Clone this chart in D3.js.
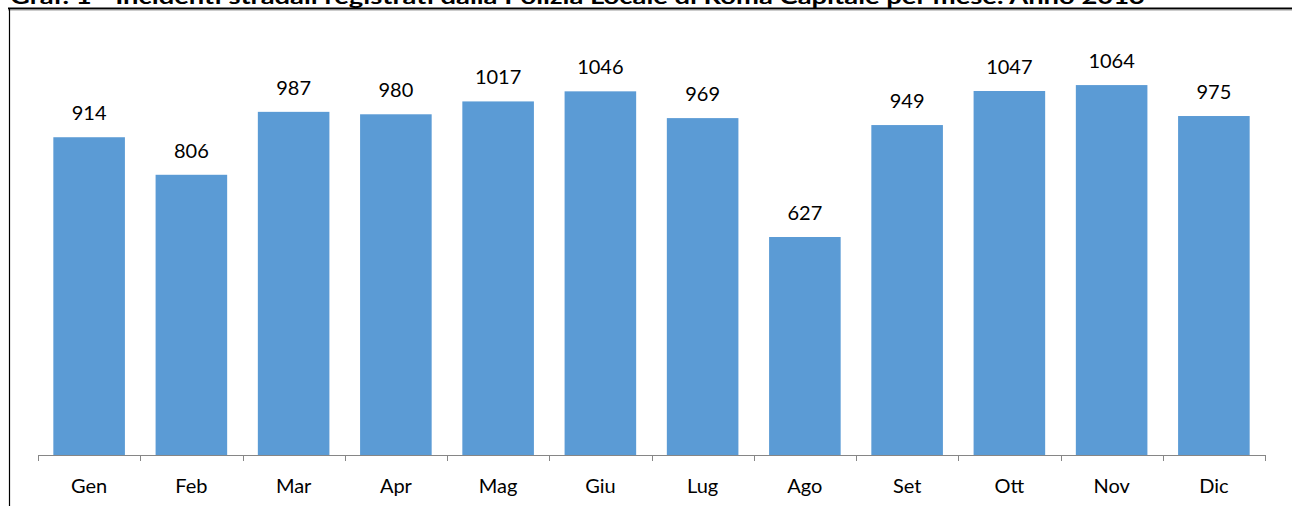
<!DOCTYPE html>
<html>
<head>
<meta charset="utf-8">
<script src="https://cdn.jsdelivr.net/npm/d3@7"></script>
<style>
  body { margin: 0; background: #fff; overflow: hidden; }
  svg { display: block; }
</style>
</head>
<body>
<div id="chart-container"></div>
<script>
const title = 'Graf. 1 - Incidenti stradali registrati dalla Polizia Locale di Roma Capitale per mese. Anno 2013';
const months = ['Gen', 'Feb', 'Mar', 'Apr', 'Mag', 'Giu', 'Lug', 'Ago', 'Set', 'Ott', 'Nov', 'Dic'];
const incidents = [914, 806, 987, 980, 1017, 1046, 969, 627, 949, 1047, 1064, 975];

const W = 1292, H = 506;
const font = 'Lato, "Open Sans", sans-serif';

const svg = d3.select('#chart-container')
  .append('svg')
  .attr('width', W)
  .attr('height', H);

// title, clipped at the top like the source
svg.append('text')
  .attr('x', 10)
  .attr('y', 4)
  .attr('textLength', 1135)
  .attr('lengthAdjust', 'spacingAndGlyphs')
  .style('font-family', font)
  .style('font-weight', 'bold')
  .style('font-size', '20px')
  .style('fill', '#000')
  .text(title);

// frame around the chart
svg.append('line')
  .attr('x1', 8).attr('x2', W).attr('y1', 8.5).attr('y2', 8.5)
  .attr('stroke', '#000').attr('stroke-width', 2);
svg.append('line')
  .attr('x1', 8).attr('x2', W).attr('y1', 10).attr('y2', 10)
  .attr('stroke', '#999').attr('stroke-width', 1);
svg.append('line')
  .attr('x1', 9.5).attr('x2', 9.5).attr('y1', 9).attr('y2', H)
  .attr('stroke', '#000').attr('stroke-width', 1.2);

// scales
const x0 = 38, x1 = 1265;
const x = d3.scaleBand()
  .domain(months)
  .range([x0, x1])
  .paddingInner(0.3)
  .paddingOuter(0.15);

const y = d3.scaleLinear()
  .domain([0, 1200])
  .range([455, 37.8]);

// bars
svg.selectAll('rect.bar')
  .data(incidents)
  .join('rect')
  .attr('class', 'bar')
  .attr('x', (d, i) => x(months[i]))
  .attr('y', (d) => y(d))
  .attr('width', x.bandwidth())
  .attr('height', (d) => y(0) - y(d))
  .attr('fill', '#5B9BD5');

// value labels
svg.selectAll('text.val')
  .data(incidents)
  .join('text')
  .attr('class', 'val')
  .attr('x', (d, i) => x(months[i]) + x.bandwidth() / 2)
  .attr('y', (d) => y(d) - 17)
  .attr('text-anchor', 'middle')
  .style('font-family', font)
  .style('font-size', '20px')
  .style('fill', '#000')
  .text((d) => d);

// x axis: baseline, ticks at category boundaries
const step = x.step();
const axis = svg.append('g');
axis.append('line')
  .attr('x1', x0).attr('x2', x1)
  .attr('y1', 455.5).attr('y2', 455.5)
  .attr('stroke', '#868686');
axis.selectAll('line.tick')
  .data(d3.range(months.length + 1))
  .join('line')
  .attr('class', 'tick')
  .attr('x1', (i) => Math.round(x0 + i * step) + 0.5)
  .attr('x2', (i) => Math.round(x0 + i * step) + 0.5)
  .attr('y1', 455)
  .attr('y2', 461)
  .attr('stroke', '#868686');
axis.selectAll('text')
  .data(months)
  .join('text')
  .attr('x', (d) => x(d) + x.bandwidth() / 2)
  .attr('y', 493)
  .attr('text-anchor', 'middle')
  .style('font-family', font)
  .style('font-size', '20px')
  .style('fill', '#000')
  .text((d) => d);
</script>
</body>
</html>
